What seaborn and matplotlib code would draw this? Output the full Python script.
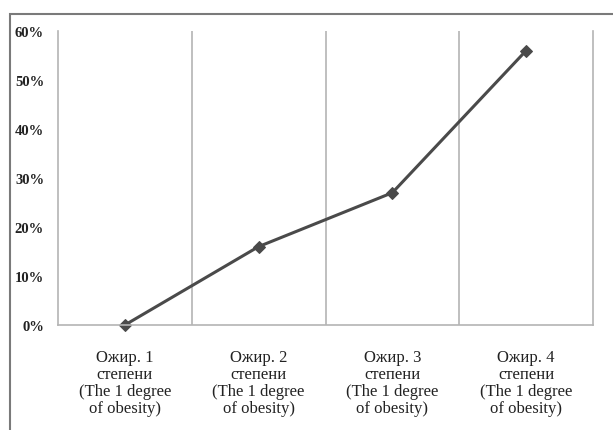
import matplotlib
matplotlib.use("Agg")
import matplotlib.pyplot as plt
from matplotlib.patches import Rectangle
from matplotlib.ticker import FixedLocator, FuncFormatter
import pandas as pd
import seaborn as sns

categories = [
    "Ожир. 1\nстепени\n(The 1 degree\nof obesity)",
    "Ожир. 2\nстепени\n(The 1 degree\nof obesity)",
    "Ожир. 3\nстепени\n(The 1 degree\nof obesity)",
    "Ожир. 4\nстепени\n(The 1 degree\nof obesity)",
]
shares = [0.0, 0.16, 0.27, 0.56]
y_ticks = [0.0, 0.1, 0.2, 0.3, 0.4, 0.5, 0.6]

sns.set_style("white")
plt.rcParams["font.family"] = ["Liberation Serif", "DejaVu Serif"]

df = pd.DataFrame({"pos": range(len(categories)), "share": shares})

fig = plt.figure(figsize=(6.13, 4.31), dpi=100)
ax = fig.add_axes([58 / 613, 105 / 431, 535 / 613, 294 / 431])

sns.lineplot(data=df, x="pos", y="share", ax=ax, color="#4a4a4a",
             linewidth=2.2, marker="D", markersize=6,
             markeredgecolor="#4a4a4a", markerfacecolor="#4a4a4a")
for line in ax.lines:
    line.set_clip_on(False)

ax.set_xlim(-0.5, len(categories) - 0.5)
ax.set_ylim(0, 0.6)
ax.set_xlabel("")
ax.set_ylabel("")

ax.set_xticks(range(len(categories)))
ax.set_xticklabels(categories, fontsize=12, color="#222222", linespacing=1.1)
ax.xaxis.set_minor_locator(FixedLocator([i + 0.5 for i in range(len(categories) - 1)]))
ax.grid(which="minor", axis="x", color="#b4b4b4", linewidth=1.2)
ax.grid(which="major", visible=False)

ax.set_yticks(y_ticks)
ax.yaxis.set_major_formatter(FuncFormatter(lambda v, _: f"{v * 100:.0f}%"))
for lbl in ax.get_yticklabels():
    lbl.set_fontweight("bold")
    lbl.set_fontsize(10.5)
    lbl.set_color("#222222")

ax.tick_params(axis="y", length=0, pad=10)
ax.tick_params(axis="x", length=0, pad=17)
ax.tick_params(which="minor", length=0)

for side in ["left", "bottom", "right"]:
    ax.spines[side].set_color("#b4b4b4")
    ax.spines[side].set_linewidth(1.2)
ax.spines["top"].set_visible(False)

# outer chart frame
fig.patches.append(Rectangle((10 / 613, -0.01), 1.0, 1 - 15 / 431 + 0.01,
                             transform=fig.transFigure, fill=False,
                             edgecolor="#7a7a7a", linewidth=1.5))

fig.savefig("out.png", dpi=100)
